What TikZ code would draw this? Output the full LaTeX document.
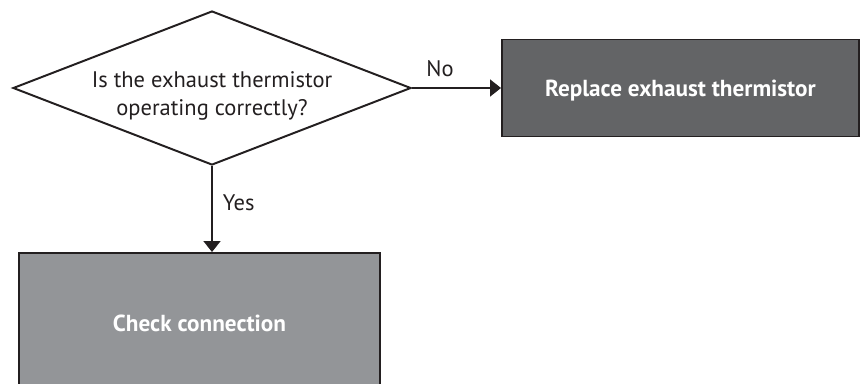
\documentclass[tikz,border=0pt]{standalone}
\usepackage{fontspec}
\setmainfont{PT Sans}
\usetikzlibrary{shapes.geometric, arrows.meta, positioning}
\definecolor{cLine}{HTML}{231F20}
\definecolor{cDark}{HTML}{636466}
\definecolor{cLight}{HTML}{939598}
\tikzset{
  fcdecision/.style={diamond, draw=cLine, line width=1.4pt, fill=white,
                     shape aspect=2.58, inner sep=0pt,
                     minimum width=9.95cm, minimum height=3.85cm},
  fcquestion/.style={align=center, inner sep=0pt, text=cLine,
                     font=\fontsize{16}{20}\selectfont},
  fcblock/.style={rectangle, draw=cLine, line width=1.4pt,
                  align=center, text=white,
                  font=\fontsize{16.5}{20}\selectfont\bfseries},
  fcaction/.style={fcblock, fill=cDark},
  fccheck/.style={fcblock, fill=cLight},
  fcarrow/.style={-{Triangle[length=7.8pt, width=12pt]}, line width=1.4pt, cLine},
  fclabel/.style={font=\fontsize{16}{20}\selectfont, text=cLine},
}
\begin{document}
\begin{tikzpicture}
  \useasboundingbox (0,0) rectangle (21.525,-9.575);
  % Decision
  \node[fcdecision] (dec) at (5.3,-2.2) {};
  \node[fcquestion] (q) at ([yshift=-0.2cm]dec.center) {Is the exhaust thermistor\\operating correctly?};
  % Outcomes
  \node[fcaction, minimum width=8.925cm, minimum height=2.425cm, text depth=0pt] (rep) at (17.0125,-2.2) {Replace exhaust thermistor};
  \node[fccheck, minimum width=9.025cm, minimum height=3.5cm] (chk) at (4.9875,-8.075) {Check connection};
  % Connectors
  \draw[fcarrow] (dec.east) -- (rep.west);
  \draw[fcarrow] (dec.south) -- (dec.south |- chk.north);
  \node[fclabel] (lno) at (11.0,-1.725) {No};
  \node[fclabel, anchor=west] (lyes) at (5.45,-5.075) {Yes};
\end{tikzpicture}
\end{document}
